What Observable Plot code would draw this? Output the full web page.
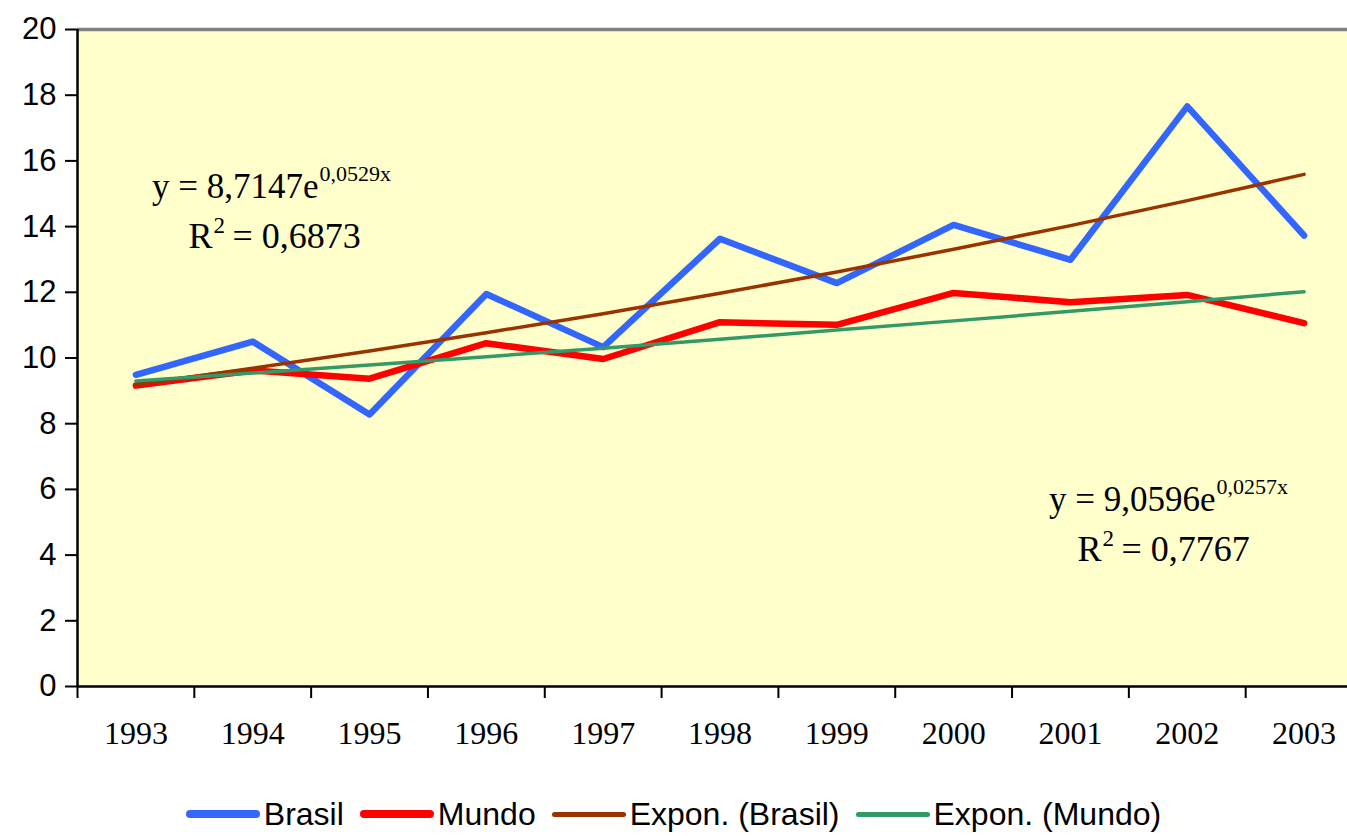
<!DOCTYPE html>
<html>
<head>
<meta charset="utf-8">
<script src="https://cdn.jsdelivr.net/npm/d3@7"></script>
<script src="https://cdn.jsdelivr.net/npm/@observablehq/plot@0.6"></script>
<style>
  html, body { margin: 0; padding: 0; background: #ffffff; overflow: hidden; }
  #chart svg { display: block; }
  #legend { display: flex; justify-content: center; align-items: center; height: 44px; width: 1347px;
            padding-top: 12px;
            font-family: "Liberation Sans", Arial, sans-serif; font-size: 32px; line-height: 1; color: #000; }
  .item { display: flex; align-items: center; margin: 0 8px; }
  .sw { width: 74px; border-radius: 5px; margin-right: 4px; }
</style>
</head>
<body>
<div id="chart"></div>
<div id="legend"></div>
<script>
// ---- data ----
const years = ["1993","1994","1995","1996","1997","1998","1999","2000","2001","2002","2003"];
const brasil = [9.49, 10.50, 8.28, 11.95, 10.33, 13.63, 12.28, 14.05, 12.99, 17.66, 13.73];
const mundo = [9.16, 9.62, 9.37, 10.45, 9.97, 11.09, 11.01, 11.98, 11.70, 11.92, 11.06];
const trendBrasil = [9.19, 9.69, 10.21, 10.77, 11.35, 11.97, 12.62, 13.31, 14.03, 14.79, 15.59];
const trendMundo = [9.30, 9.54, 9.79, 10.04, 10.30, 10.57, 10.85, 11.13, 11.42, 11.71, 12.02];
const yTicks = [0, 2, 4, 6, 8, 10, 12, 14, 16, 18, 20];
const seriesNames = ["Brasil", "Mundo", "Expon. (Brasil)", "Expon. (Mundo)"];
const eqBrasil = {main: "y = 8,7147e", exp: "0,0529x", r: "R", sq: "2", rest: "= 0,6873"};
const eqMundo = {main: "y = 9,0596e", exp: "0,0257x", r: "R", sq: "2", rest: "= 0,7767"};

const colors = ["#3366FF", "#FF0000", "#993300", "#339966"];
const widths = [6.5, 6.5, 3.5, 3.5];

const rows = years.map((y, i) => ({
  year: y, pos: i + 0.5,
  brasil: brasil[i], mundo: mundo[i], tb: trendBrasil[i], tm: trendMundo[i]
}));
const bounds = d3.range(0, years.length + 1);

const serif = "'Liberation Serif', 'Times New Roman', serif";
const sans = "'Liberation Sans', Arial, sans-serif";

const lineOpts = (key, k) => ({
  x: "pos", y: key, stroke: colors[k], strokeWidth: widths[k],
  strokeLinecap: "round", strokeLinejoin: "round"
});

// equation block: anchor (ax, ay) = baseline end of "…e" on first line, relative to frame top-left
function equation(eq, ax, ay, rx) {
  const base = {frameAnchor: "top-left", lineAnchor: "bottom", fontFamily: serif, fill: "#000"};
  return [
    Plot.text([eq], {...base, text: "main", textAnchor: "end", dx: ax, dy: ay, fontSize: 35}),
    Plot.text([eq], {...base, text: "exp", textAnchor: "start", dx: ax + 1, dy: ay - 17, fontSize: 22}),
    Plot.text([eq], {...base, text: "r", textAnchor: "end", dx: rx, dy: ay + 50, fontSize: 36}),
    Plot.text([eq], {...base, text: "sq", textAnchor: "start", dx: rx + 1, dy: ay + 35, fontSize: 23}),
    Plot.text([eq], {...base, text: "rest", textAnchor: "start", dx: rx + 20, dy: ay + 50, fontSize: 36})
  ];
}

const chart = Plot.plot({
  width: 1362, height: 780,
  marginLeft: 77, marginRight: 0, marginTop: 29, marginBottom: 94,
  style: {background: "#ffffff", maxWidth: "none", overflow: "visible", fontFamily: sans, color: "#000"},
  x: {domain: [0, years.length], axis: null},
  y: {domain: [0, 20], axis: null},
  marks: [
    Plot.frame({fill: "#FFFFCC", stroke: null}),
    Plot.ruleY([20], {stroke: "#808080", strokeWidth: 3.5}),
    Plot.axisY({ticks: yTicks, tickSize: 12, tickPadding: 9, fontSize: 31, fontFamily: sans,
                stroke: "#000", strokeWidth: 2, fill: "#000", label: null}),
    Plot.axisX({ticks: bounds, tickSize: 12, tickFormat: () => "", stroke: "#000", strokeWidth: 2, label: null}),
    Plot.ruleX([0], {stroke: "#000", strokeWidth: 2.5}),
    Plot.ruleY([0], {stroke: "#000", strokeWidth: 2.5}),
    Plot.text(rows, {x: "pos", frameAnchor: "bottom", text: "year", lineAnchor: "bottom", dy: 57,
                     fontSize: 32, fontFamily: serif, fill: "#000"}),
    Plot.lineY(rows, lineOpts("brasil", 0)),
    Plot.lineY(rows, lineOpts("mundo", 1)),
    Plot.lineY(rows, lineOpts("tb", 2)),
    Plot.lineY(rows, lineOpts("tm", 3)),
    ...equation(eqBrasil, 241, 168, 135),
    ...equation(eqMundo, 1138, 481, 1024)
  ]
});
document.getElementById("chart").appendChild(chart);

const legend = document.getElementById("legend");
seriesNames.forEach((name, k) => {
  const item = document.createElement("div");
  item.className = "item";
  const sw = document.createElement("div");
  sw.className = "sw";
  sw.style.height = (k < 2 ? 8 : 5) + "px";
  sw.style.background = colors[k];
  const label = document.createElement("span");
  label.textContent = name;
  item.appendChild(sw);
  item.appendChild(label);
  legend.appendChild(item);
});
</script>
</body>
</html>
